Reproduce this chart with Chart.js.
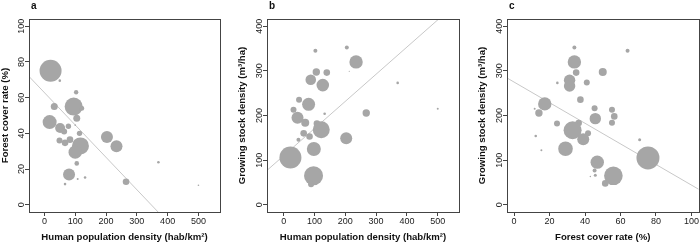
<!DOCTYPE html>
<html>
<head>
<meta charset="utf-8">
<script src="https://cdn.jsdelivr.net/npm/chart.js@4.4.1/dist/chart.umd.min.js"></script>
<style>
  html, body { margin: 0; padding: 0; background: #fff; }
  #wrap { position: relative; width: 700px; height: 249px; overflow: hidden; }
  .panel { position: absolute; top: 0; }
</style>
</head>
<body>
<div id="wrap">
  <canvas id="chartA" class="panel" width="235" height="249" style="left:0"></canvas>
  <canvas id="chartB" class="panel" width="235" height="249" style="left:235px"></canvas>
  <canvas id="chartC" class="panel" width="240" height="249" style="left:470px"></canvas>
</div>
<script>
// panel a: population density vs forest cover
const popA    = [20, 50, 103, 32, 95, 121, 105, 17, 51, 64, 78, 100, 114, 49, 67, 83, 117, 100, 105, 203, 234, 80, 67, 108, 132, 265, 370, 500];
const forestA = [75, 69.5, 63, 55, 55, 54, 48.5, 46.3, 43, 41, 44, 44.6, 40, 36, 34.7, 36.5, 33, 29.5, 23.2, 38, 32.8, 17, 11.6, 14.5, 15.3, 12.9, 23.8, 11];
const sizeA   = [11, 1.3, 2.2, 3.5, 9, 2.5, 3.5, 7, 5, 3, 2.7, 0.8, 2.7, 3, 3.3, 3.3, 8.5, 6.7, 2.3, 6, 6, 6, 1.3, 1, 1.3, 3.3, 1.3, 0.8];

// panel b: population density vs growing stock
const popB   = [103, 205, 235, 213, 106, 140, 88, 127, 50, 81, 32, 133, 268, 370, 500, 45, 70, 108, 65, 84, 48, 122, 203, 98, 22, 97, 89];
const stockB = [345, 352, 320, 299, 297.5, 296, 280, 268, 235.5, 225, 213, 204, 205.5, 273, 215, 195, 184, 182, 160, 153, 146, 168, 149, 125, 106, 65, 46];
const sizeB  = [2, 2, 6.7, 0.6, 3.7, 3.3, 5.3, 6.3, 3, 6.5, 3, 1.3, 3.7, 1.3, 1, 6, 4, 3.3, 3.3, 3.3, 2, 8.5, 6, 7, 11, 9.5, 3];

// panel c: forest cover vs growing stock
const forestC = [34, 64, 34, 50, 35, 31.3, 31.3, 24.4, 41, 37.4, 17.3, 11.6, 14, 45.4, 55.2, 45.8, 56.5, 55.2, 24.2, 36.4, 33, 39, 41.7, 12.2, 15.4, 29, 70.8, 46.9, 45.4, 43, 45.8, 56, 51.4, 75.5];
const stockC  = [352, 345, 320, 297.5, 296, 279, 266, 273, 273.6, 235.5, 226, 215, 205.5, 216, 213, 193, 198, 184, 182, 183, 167, 147, 160, 154, 122, 125.6, 146, 95.6, 77, 63.5, 66, 65, 48, 105];
const sizeC   = [2, 2, 6.7, 4, 3.3, 5.7, 5.7, 1.3, 3, 3.3, 6.7, 1, 3.7, 3, 3, 5.7, 3.3, 3, 3, 3.3, 9, 6, 3, 1.3, 1, 7.3, 1.5, 6.7, 2, 0.7, 1.5, 9.3, 3.3, 11.5];

// fitted lines: [intercept, slope]
const fitA = [62.8, -0.181];
const fitB = [110, 0.608];
const fitC = [274.8, -2.305];

// tick labels
const popTicks    = [0, 100, 200, 300, 400, 500];
const forestTicks = [0, 20, 40, 60, 80, 100];
const stockTicks  = [0, 100, 200, 300, 400];

const popTitle    = 'Human population density (hab/km²)';
const forestTitle = 'Forest cover rate (%)';
const stockTitle  = 'Growing stock density (m³/ha)';

const FONT = "'Liberation Sans', Arial, sans-serif";

const framePlugin = {
  id: 'frame',
  afterDraw(chart, args, opts) {
    const { ctx, chartArea: a } = chart;
    ctx.save();
    ctx.strokeStyle = '#444';
    ctx.lineWidth = 1;
    ctx.strokeRect(Math.round(a.left) + 0.5, Math.round(a.top) + 0.5,
      Math.round(a.right - a.left), Math.round(a.bottom - a.top));
    ctx.fillStyle = '#111';
    ctx.font = 'bold 10px ' + FONT;
    ctx.textBaseline = 'alphabetic';
    ctx.fillText(opts.letter, a.left + 2, 8.5);
    ctx.restore();
  }
};

function axis(min, max, ticks, title, extra) {
  return Object.assign({
    type: 'linear',
    min: min,
    max: max,
    afterBuildTicks: s => { s.ticks = ticks.map(v => ({ value: v })); },
    grid: { drawOnChartArea: false, drawTicks: true, tickLength: 4, tickColor: '#444', lineWidth: 1 },
    border: { display: false },
    ticks: { autoSkip: false, color: '#222', font: { family: FONT, size: 9 } },
    title: { display: true, text: title, color: '#111', font: { family: FONT, size: 9.6, weight: 'bold' } }
  }, extra);
}

function makePanel(id, cfg) {
  const pts = cfg.xs.map((v, i) => ({ x: v, y: cfg.ys[i], r: cfg.rs[i] }));
  const ends = [cfg.xMin - 50, cfg.xMax + 50];
  const line = ends.map(v => ({ x: v, y: cfg.fit[0] + cfg.fit[1] * v }));

  const x = axis(cfg.xMin, cfg.xMax, cfg.xTicks, cfg.xTitle, {
    afterFit: s => { s.height = 37; }
  });
  x.ticks.padding = 0.5;
  x.ticks.maxRotation = 0;
  x.title.padding = { top: 0, bottom: 5.5 };

  const y = axis(cfg.yMin, cfg.yMax, cfg.yTicks, cfg.yTitle, {
    afterFit: s => { s.width = cfg.yWidth; }
  });
  y.ticks.minRotation = 90;
  y.ticks.maxRotation = 90;
  y.ticks.crossAlign = 'center';
  y.ticks.padding = -4;
  y.title.padding = { top: cfg.yTitlePad, bottom: 0 };

  return new Chart(document.getElementById(id), {
    type: 'bubble',
    data: {
      datasets: [
        { data: pts, backgroundColor: '#a6a6a6', borderWidth: 0, order: 1 },
        { type: 'line', data: line, borderColor: '#c8c8c8', borderWidth: 1, pointRadius: 0, fill: false, order: 2 }
      ]
    },
    options: {
      responsive: false,
      animation: false,
      events: [],
      layout: { padding: { top: 19, right: cfg.padRight, left: 0, bottom: 0 } },
      plugins: {
        legend: { display: false },
        tooltip: { enabled: false },
        frame: { letter: cfg.letter }
      },
      scales: { x: x, y: y }
    },
    plugins: [framePlugin]
  });
}

makePanel('chartA', {
  letter: 'a', xs: popA, ys: forestA, rs: sizeA, fit: fitA,
  xMin: -50, xMax: 570, yMin: -4, yMax: 104,
  xTicks: popTicks, yTicks: forestTicks, xTitle: popTitle, yTitle: forestTitle,
  yWidth: 29, padRight: 15, yTitlePad: 0
});
makePanel('chartB', {
  letter: 'b', xs: popB, ys: stockB, rs: sizeB, fit: fitB,
  xMin: -54, xMax: 569, yMin: -16, yMax: 416,
  xTicks: popTicks, yTicks: stockTicks, xTitle: popTitle, yTitle: stockTitle,
  yWidth: 32, padRight: 11, yTitlePad: 1.7
});
makePanel('chartC', {
  letter: 'c', xs: forestC, ys: stockC, rs: sizeC, fit: fitC,
  xMin: -4, xMax: 104, yMin: -16, yMax: 416,
  xTicks: forestTicks, yTicks: stockTicks, xTitle: forestTitle, yTitle: stockTitle,
  yWidth: 37, padRight: 11, yTitlePad: 7
});
</script>
</body>
</html>
